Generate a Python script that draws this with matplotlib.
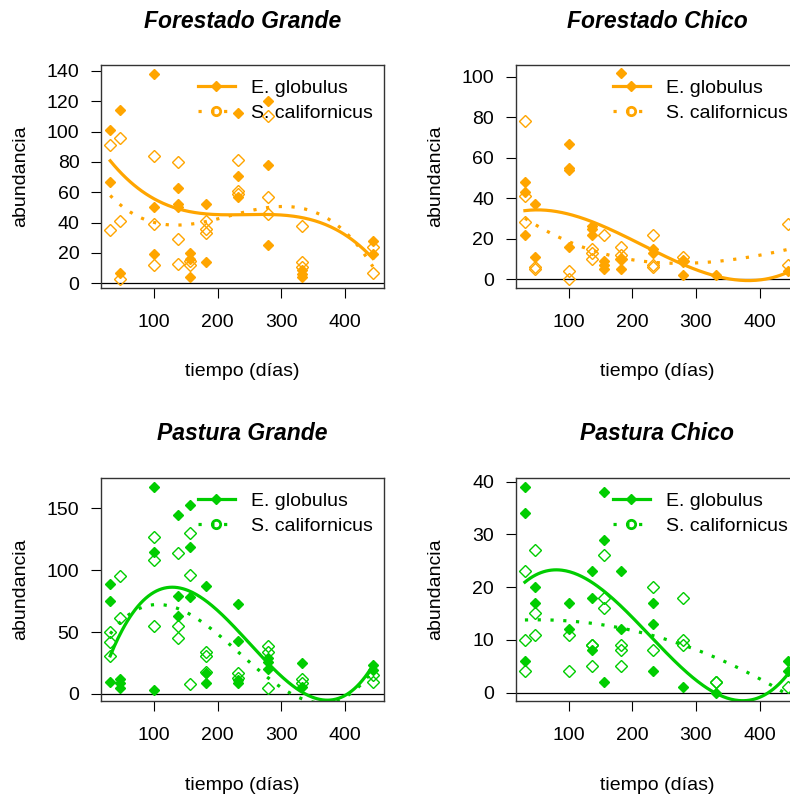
import numpy as np
import matplotlib
matplotlib.use("Agg")
import matplotlib.pyplot as plt
from matplotlib.lines import Line2D

plt.rcParams["font.family"] = ["Liberation Sans", "DejaVu Sans"]

W, H = 790, 798
ORANGE = "#FFA500"
GREEN = "#00CD00"

# Forestado Grande: points
fg_eg_t = [31, 31, 47, 47, 100, 100, 100, 137, 137, 137, 156, 156, 156, 181, 181,
           232, 232, 232, 279, 279, 279, 332, 332, 332, 444, 444]
fg_eg_v = [101, 67, 114, 7, 138, 50, 19, 63, 52, 50, 20, 16, 4, 52, 14,
           112, 71, 57, 120, 78, 25, 9, 6, 4, 28, 19]
fg_sc_t = [31, 31, 47, 47, 47, 100, 100, 100, 137, 137, 137, 156, 156, 181, 181, 181,
           232, 232, 232, 279, 279, 279, 332, 332, 332, 444, 444]
fg_sc_v = [91, 35, 96, 41, 3, 84, 39, 12, 80, 29, 13, 15, 12, 41, 36, 33,
           81, 61, 59, 110, 57, 46, 38, 14, 11, 24, 7]
# Forestado Grande: fitted trend
fg_eg_fit_t = [31, 67, 100, 137, 181, 232, 279, 332, 392, 444]
fg_eg_fit_v = [81, 66, 54.5, 48.5, 45.7, 45.8, 47, 43, 32, 17.5]
fg_sc_fit_t = [31, 71, 100, 125, 156, 209, 251, 306, 340, 363, 408, 444]
fg_sc_fit_v = [57.5, 45.7, 40, 38, 39, 44, 46.5, 51.5, 49.5, 44, 30.7, 11]

# Forestado Chico
fc_eg_t = [31, 31, 31, 47, 47, 100, 100, 100, 100, 137, 137, 137, 156, 156, 156,
           182, 182, 182, 232, 232, 279, 279, 332, 444]
fc_eg_v = [48, 43, 22, 37, 11, 67, 55, 54, 16, 26, 25, 22, 9, 7, 5,
           102, 10, 5, 15, 13, 9, 2, 2, 4]
fc_sc_t = [31, 31, 31, 47, 47, 100, 100, 137, 137, 137, 156, 182, 182, 182,
           232, 232, 232, 279, 279, 444, 444]
fc_sc_v = [78, 41, 28, 6, 5, 4, 0, 15, 13, 10, 22, 16, 12, 10,
           22, 7, 6, 11, 9, 27, 7]
fc_eg_fit_t = [31, 55, 100, 139, 187, 230, 280, 313, 345, 382, 418, 445]
fc_eg_fit_v = [33.5, 34.6, 32.5, 27.5, 20.9, 15, 7.8, 2.8, 0.3, -0.5, 0.3, 3.6]
fc_sc_fit_t = [31, 47, 60, 87, 113, 171, 203, 240, 300, 342, 387, 429, 445]
fc_sc_fit_v = [29, 27.5, 25, 21, 17, 11, 8.6, 7.8, 8.6, 9.4, 11, 13.3, 14.8]

# Pastura Grande
pg_eg_t = [31, 31, 31, 47, 47, 47, 100, 100, 100, 137, 137, 137, 156, 156, 156,
           181, 181, 181, 232, 232, 232, 232, 279, 279, 279, 332, 332, 444, 444]
pg_eg_v = [89, 75, 10, 12, 9, 5, 167, 115, 3, 145, 79, 63, 153, 119, 78,
           87, 17, 9, 73, 43, 11, 9, 29, 26, 20, 25, 6, 23, 19]
pg_sc_t = [31, 31, 31, 47, 47, 100, 100, 100, 137, 137, 137, 156, 156, 156,
           181, 181, 181, 232, 232, 279, 279, 279, 332, 332, 444, 444]
pg_sc_v = [50, 42, 31, 95, 61, 127, 108, 55, 114, 55, 45, 130, 96, 8,
           34, 31, 18, 17, 13, 39, 34, 5, 12, 9, 15, 10]
pg_eg_fit_t = [33, 46, 67, 93, 120, 146, 172, 198, 224, 280, 332, 366, 397, 444]
pg_eg_fit_v = [33.4, 47.7, 65, 80, 86.7, 86.2, 79, 68, 52, 26, 2, -4.8, -2.2, 23]
pg_sc_fit_t = [31, 41, 77, 109, 138, 177, 203, 230, 261, 287, 320, 392, 421, 442]
pg_sc_fit_v = [49, 54.4, 68.5, 72, 70.5, 57, 47.7, 34, 22, 8.6, -2, -2.7, 6, 16.7]

# Pastura Chico
pc_eg_t = [31, 31, 31, 47, 47, 100, 100, 137, 137, 137, 156, 156, 156,
           182, 182, 232, 232, 232, 279, 332, 444, 444]
pc_eg_v = [39, 34, 6, 20, 17, 17, 12, 23, 18, 8, 38, 29, 2,
           23, 12, 17, 13, 4, 1, 0, 6, 4]
pc_sc_t = [31, 31, 31, 47, 47, 47, 100, 100, 137, 137, 137, 156, 156, 156,
           182, 182, 182, 232, 232, 279, 279, 279, 332, 332, 444]
pc_sc_v = [23, 10, 4, 27, 15, 11, 11, 4, 9, 9, 5, 26, 18, 16,
           9, 8, 5, 20, 8, 18, 10, 9, 2, 2, 1]
pc_eg_fit_t = [34, 60, 82, 103, 139, 166, 192, 215, 245, 281, 318, 366, 410, 445]
pc_eg_fit_v = [21.4, 22.8, 23.1, 22.6, 20.7, 18.8, 15.7, 12, 8.1, 4.2, 0.8, -1.3, -0.1, 3.4]
pc_sc_fit_t = [34, 66, 103, 129, 160, 192, 240, 276, 308, 340, 366, 395, 420]
pc_sc_fit_v = [13.8, 13.8, 13.5, 13.1, 12.8, 12.2, 10.6, 9, 7.6, 6.2, 4.9, 3, 1.2]

titles = ["Forestado Grande", "Forestado Chico", "Pastura Grande", "Pastura Chico"]
series = [
    (fg_eg_t, fg_eg_v, fg_sc_t, fg_sc_v, fg_eg_fit_t, fg_eg_fit_v, fg_sc_fit_t, fg_sc_fit_v),
    (fc_eg_t, fc_eg_v, fc_sc_t, fc_sc_v, fc_eg_fit_t, fc_eg_fit_v, fc_sc_fit_t, fc_sc_fit_v),
    (pg_eg_t, pg_eg_v, pg_sc_t, pg_sc_v, pg_eg_fit_t, pg_eg_fit_v, pg_sc_fit_t, pg_sc_fit_v),
    (pc_eg_t, pc_eg_v, pc_sc_t, pc_sc_v, pc_eg_fit_t, pc_eg_fit_v, pc_sc_fit_t, pc_sc_fit_v),
]
colors = [ORANGE, ORANGE, GREEN, GREEN]
ylims = [(-3.1, 143.9), (-4.4, 105.8), (-5.7, 174.5), (-1.6, 40.7)]
yticks = [range(0, 141, 20), range(0, 101, 20), [0, 50, 100, 150], range(0, 41, 10)]
xticks = [100, 200, 300, 400]
corners = [(101, 65), (515.7, 65), (101, 478), (515.7, 478)]
PW, PH = 283, 223

fig = plt.figure(figsize=(W / 100, H / 100), dpi=100)


def ftext(x, y, s, **kw):
    fig.text(x / W, 1 - y / H, s, ha="center", va="center", **kw)


for i, title in enumerate(titles):
    et, ev, st, sv, eft, efv, sft, sfv = series[i]
    col = colors[i]
    left, top = corners[i]
    ax = fig.add_axes([left / W, 1 - (top + PH) / H, PW / W, PH / H])
    ax.set_xlim(16.5, 461.5)
    ax.set_ylim(*ylims[i])
    ax.set_xticks(xticks)
    ax.set_yticks(list(yticks[i]))
    ax.tick_params(direction="out", length=7.5, width=0.8, labelsize=14,
                   colors="black", pad=8)
    ax.tick_params(axis="x", pad=11)
    for sp in ax.spines.values():
        sp.set_linewidth(1.0)
        sp.set_color("#333333")
    ax.axhline(0, color="black", lw=0.9, zorder=1)

    ax.plot(et, ev, ls="none", marker="D", ms=5.5, color=col, zorder=3)
    ax.plot(st, sv, ls="none", marker="D", ms=6, mfc="none", mec=col,
            mew=1.0, zorder=3)

    # smooth trend through the values
    xs = np.linspace(min(et), max(et), 200)
    for ft, fv, ls in [(eft, efv, "-"), (sft, sfv, (0, (1, 3)))]:
        coef = np.polyfit(ft, fv, 3)
        ax.plot(xs, np.polyval(coef, xs), color=col, lw=2.3, ls=ls,
                dash_capstyle="butt", zorder=2)

    handles = [
        Line2D([], [], color=col, lw=2.3, marker="D", ms=5),
        Line2D([], [], color=col, lw=2.3, ls=(0, (1, 3)), marker="o", ms=6,
               mfc="none", mew=2),
    ]
    leg = ax.legend(handles, ["E. globulus", "S. californicus"], loc="upper left",
                    bbox_to_anchor=(97 / PW, 1 - 14 / PH), frameon=False,
                    fontsize=14, handlelength=1.9, handletextpad=0.85,
                    labelspacing=0.4, borderpad=0, borderaxespad=0)
    leg.set_zorder(1)

    cx = left + PW / 2
    ftext(cx, top - 44, title, fontsize=16.5, fontweight="bold", fontstyle="italic")
    ftext(cx, top + 307, "tiempo (días)", fontsize=14)
    ftext(left - 80, top + PH / 2, "abundancia", fontsize=14, rotation=90)

fig.savefig("out.png", dpi=100)
